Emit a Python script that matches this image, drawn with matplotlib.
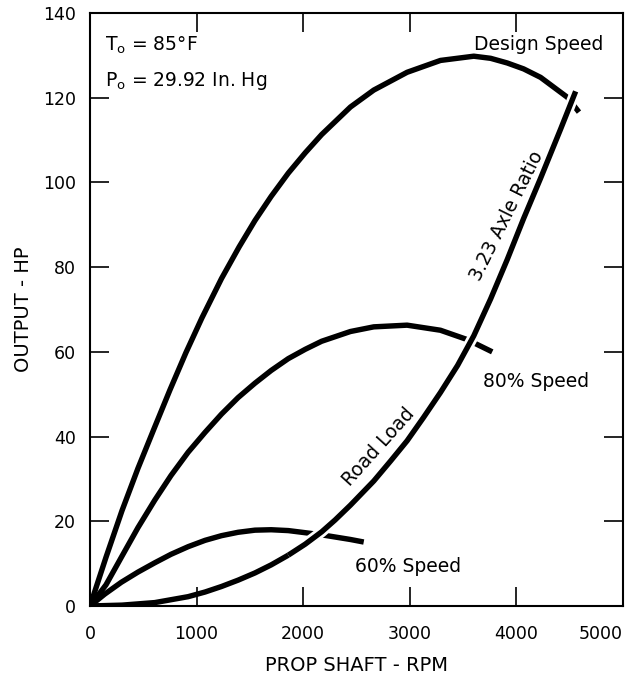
import matplotlib
matplotlib.use("Agg")
import matplotlib.pyplot as plt
import matplotlib.patheffects as pe

# Data (rpm, HP)
design_rpm = [0, 150, 300, 450, 600, 750, 900, 1050, 1234, 1400, 1548, 1700, 1861, 2020, 2174, 2444, 2663, 2976, 3289, 3602, 3760, 3916, 4070, 4229, 4480, 4589]
design_hp = [0, 11.5, 22.5, 32.5, 41.8, 51.0, 59.8, 68.0, 77.3, 84.8, 91.0, 96.7, 102.2, 107.0, 111.3, 117.8, 121.8, 126.0, 128.8, 129.8, 129.3, 128.2, 126.8, 124.8, 120.1, 116.6]

s80_rpm = [0, 150, 294, 450, 608, 760, 921, 1080, 1234, 1390, 1548, 1700, 1861, 2020, 2174, 2444, 2663, 2976, 3289, 3540, 3775]
s80_hp = [0, 5.0, 11.5, 18.5, 25.0, 30.8, 36.3, 41.0, 45.3, 49.2, 52.6, 55.6, 58.4, 60.6, 62.5, 64.8, 65.9, 66.3, 65.1, 62.9, 60.0]

s60_rpm = [0, 138, 294, 450, 608, 760, 921, 1080, 1234, 1390, 1548, 1700, 1861, 2020, 2174, 2444, 2569]
s60_hp = [0, 2.8, 5.6, 8.0, 10.2, 12.2, 14.0, 15.5, 16.6, 17.4, 17.9, 18.0, 17.8, 17.3, 16.8, 15.7, 15.1]

road_rpm = [0, 300, 608, 921, 1080, 1234, 1390, 1548, 1700, 1861, 2020, 2174, 2300, 2444, 2663, 2820, 2976, 3130, 3289, 3450, 3602, 3760, 3916, 4070, 4229, 4417, 4558]
road_hp = [0, 0.2, 0.8, 2.2, 3.3, 4.6, 6.1, 7.8, 9.7, 12.0, 14.6, 17.5, 20.3, 23.8, 29.5, 34.2, 39.0, 44.5, 50.4, 56.8, 63.8, 72.5, 81.8, 91.5, 101.0, 112.6, 121.5]

x_ticks = [0, 1000, 2000, 3000, 4000, 5000]
y_ticks = [0, 20, 40, 60, 80, 100, 120, 140]

fig = plt.figure(figsize=(6.26, 6.77), dpi=100)
ax = fig.add_axes([0.1438, 0.1049, 0.851, 0.8759])

lw = 3.9
kw = dict(color="black", lw=lw, solid_capstyle="butt", solid_joinstyle="round")
ax.plot(design_rpm, design_hp, **kw)
ax.plot(s80_rpm, s80_hp, **kw)
ax.plot(s60_rpm, s60_hp, **kw)
# road load / axle ratio line, with a white halo where it crosses the other curves
ax.plot(road_rpm[9:], road_hp[9:],
        path_effects=[pe.Stroke(linewidth=lw + 4, foreground="white"), pe.Normal()], **kw)
ax.plot(road_rpm[:10], road_hp[:10], **kw)

ax.set_xlim(0, 5000)
ax.set_ylim(0, 140)
ax.set_xticks(x_ticks)
ax.set_yticks(y_ticks)
ax.tick_params(direction="in", length=14, width=1.2, top=True, right=True,
               labelsize=12.5, pad=10)
ax.tick_params(axis="x", pad=14)
xl = ax.get_xticklabels()
xl[-1].set_horizontalalignment("right")
for sp in ax.spines.values():
    sp.set_linewidth(1.5)

ax.set_xlabel("PROP SHAFT - RPM", fontsize=14, labelpad=9)
ax.set_ylabel("OUTPUT - HP", fontsize=14, labelpad=7)

fs = 13.5
ax.text(141, 132.3, r"T$_{\mathrm{o}}$ = 85°F", fontsize=fs, va="center", ha="left")
ax.text(141, 124, r"P$_{\mathrm{o}}$ = 29.92 In. Hg", fontsize=fs, va="center", ha="left")
ax.text(4821, 132.5, "Design Speed", fontsize=fs, va="center", ha="right")
ax.text(3684, 53, "80% Speed", fontsize=fs, va="center", ha="left")
ax.text(2490, 9.4, "60% Speed", fontsize=fs, va="center", ha="left")
ax.text(2707, 37.5, "Road Load", fontsize=fs, va="center", ha="center", rotation=48,
        rotation_mode="anchor")
ax.text(3910, 92.2, "3.23 Axle Ratio", fontsize=fs, va="center", ha="center", rotation=63.5,
        rotation_mode="anchor")

fig.savefig("out.png", dpi=100)
